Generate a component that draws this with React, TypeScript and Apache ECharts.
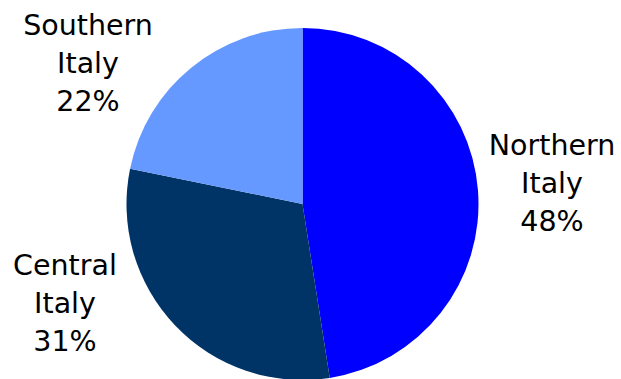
import React, { useEffect, useRef } from "react";
import * as echarts from "echarts";

const categories = ["Northern\nItaly", "Central\nItaly", "Southern\nItaly"];
const values = [48, 31, 22];
const colors = ["#0000FF", "#003366", "#6699FF"];
// label anchor positions (layout only)
const labelPos = [
  [552, 183],
  [65, 303],
  [88, 63],
];

export default function App() {
  const ref = useRef<HTMLDivElement>(null);
  useEffect(() => {
    document.body.style.margin = "0";
    const chart = echarts.init(ref.current!, null, { renderer: "svg" });
    chart.setOption({
      animation: false,
      backgroundColor: "#ffffff",
      series: [
        {
          type: "pie",
          center: [302.5, 204],
          radius: 176,
          startAngle: 90,
          clockwise: true,
          data: categories.map((c, i) => ({
            name: c,
            value: values[i],
            itemStyle: { color: colors[i] },
          })),
          label: {
            show: true,
            position: "inside",
            overflow: "none",
            formatter: (p: any) => `${p.name}\n${p.value}%`,
            fontFamily: "DejaVu Sans",
            fontSize: 28.5,
            lineHeight: 38,
            color: "#000000",
            align: "center",
          },
          labelLine: { show: false },
          labelLayout: (params: any) => {
            const pos = labelPos[params.dataIndex];
            return {
              x: pos[0],
              y: pos[1],
              align: "center",
              verticalAlign: "middle",
            };
          },
          emphasis: { disabled: true },
        },
      ],
    });
    return () => chart.dispose();
  }, []);
  return <div ref={ref} style={{ width: 621, height: 379 }} />;
}
